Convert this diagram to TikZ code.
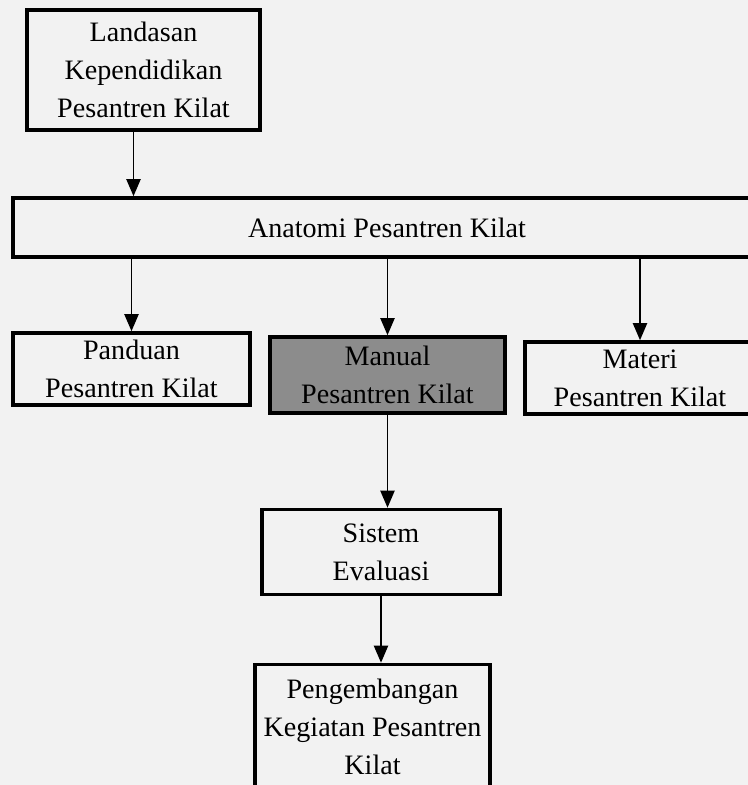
\documentclass[tikz,border=0pt]{standalone}
\usepackage{fontspec}
\setmainfont{Liberation Serif}
\usetikzlibrary{arrows.meta}
\tikzset{
	kotak/.style={draw,line width=2pt,align=center,inner sep=0pt,font=\fontsize{16}{21.5}\selectfont},
	panah/.style={line width=1.1pt,-{Triangle[length=0.34cm,width=0.28cm]}}
}
\begin{document}
\begin{tikzpicture}
				\fill[gray!10](0,0)rectangle(14.96,15.7);
				\useasboundingbox(0,0)rectangle(14.96,15.7);
				\node[kotak,minimum width=4.66cm,minimum height=2.4cm](landasan)at(2.87,14.3){Landasan\\Kependidikan\\Pesantren Kilat};
				\node[kotak,minimum width=14.96cm,minimum height=1.18cm](anatomi)at(7.74,11.15){Anatomi Pesantren Kilat};
				\node[kotak,minimum width=4.74cm,minimum height=1.44cm](panduan)at(2.63,8.32){Panduan\\Pesantren Kilat};
				\node[kotak,fill=black!45,minimum width=4.7cm,minimum height=1.52cm](manual)at(7.75,8.2){Manual\\Pesantren Kilat};
				\node[kotak,minimum width=4.6cm,minimum height=1.44cm](materi)at(12.8,8.14){Materi\\Pesantren Kilat};
				\node[kotak,minimum width=4.76cm,minimum height=1.7cm](sistem)at(7.62,4.66){Sistem\\Evaluasi};
				\node[kotak,minimum width=4.7cm,minimum height=2.5cm](pengembangan)at(7.45,1.16){Pengembangan\\Kegiatan Pesantren\\Kilat};
				\draw[panah]([xshift=-0.2cm]landasan.south)--([xshift=-0.2cm]landasan.south|-anatomi.north);
				\draw[panah](anatomi.south-|panduan)--(panduan.north);
				\draw[panah](anatomi.south-|manual)--(manual.north);
				\draw[panah](anatomi.south-|materi)--(materi.north);
				\draw[panah](manual)--(sistem.north-|manual);
				\draw[panah](sistem)--(pengembangan.north-|sistem);
			\end{tikzpicture}
\end{document}
